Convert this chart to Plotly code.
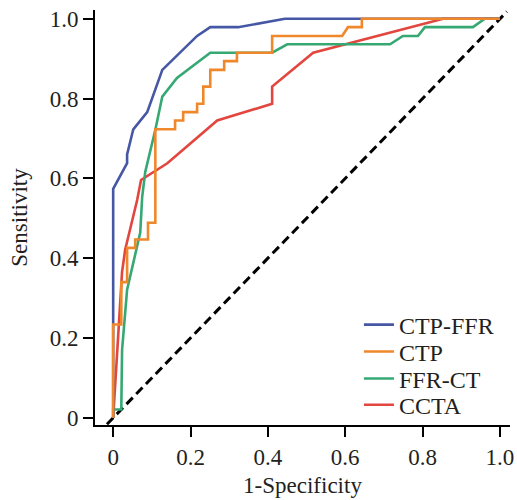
import plotly.graph_objects as go

# ROC curves (1-Specificity, Sensitivity)
ctpffr_x = [0, 0, 0.036, 0.036, 0.052, 0.088, 0.127, 0.217, 0.251, 0.323, 0.444, 1.0]
ctpffr_y = [0, 0.574, 0.638, 0.660, 0.723, 0.766, 0.872, 0.957, 0.979, 0.979, 1.0, 1.0]

ctp_x = [0, 0, 0.021, 0.021, 0.036, 0.036, 0.057, 0.057, 0.090, 0.090, 0.109, 0.109,
         0.160, 0.160, 0.181, 0.181, 0.217, 0.217, 0.233, 0.233, 0.251, 0.251, 0.287,
         0.287, 0.320, 0.320, 0.411, 0.411, 0.592, 0.607, 0.643, 0.643, 1.0]
ctp_y = [0, 0.234, 0.234, 0.340, 0.340, 0.426, 0.426, 0.447, 0.447, 0.489, 0.489, 0.723,
         0.723, 0.745, 0.745, 0.766, 0.766, 0.787, 0.787, 0.830, 0.830, 0.872, 0.872,
         0.894, 0.894, 0.915, 0.915, 0.957, 0.957, 0.979, 0.979, 1.0, 1.0]

ffrct_x = [0, 0, 0.021, 0.023, 0.036, 0.070, 0.075, 0.083, 0.109, 0.127, 0.165, 0.251,
           0.411, 0.450, 0.716, 0.749, 0.788, 0.806, 0.930, 0.961, 1.0]
ffrct_y = [0, 0.021, 0.021, 0.170, 0.321, 0.464, 0.554, 0.617, 0.722, 0.805, 0.852, 0.915,
           0.915, 0.936, 0.936, 0.957, 0.957, 0.979, 0.979, 1.0, 1.0]

ccta_x = [0, 0.023, 0.031, 0.062, 0.072, 0.140, 0.269, 0.411, 0.411, 0.517, 0.853, 1.0]
ccta_y = [0, 0.366, 0.421, 0.546, 0.596, 0.638, 0.745, 0.787, 0.830, 0.915, 1.0, 1.0]

diag_x = [-0.016, 1.018]
diag_y = [-0.016, 1.018]

tick_vals = [0, 0.2, 0.4, 0.6, 0.8, 1.0]
x_tick_text = ["0", "0.2", "0.4", "0.6", "0.8", "1.0"]
y_tick_text = ["0", "0.2", "0.4", "0.6", "0.8", "1.0"]

FONT = "Liberation Serif"
TXT = "#231f20"
W = 2.6

fig = go.Figure()
fig.add_trace(go.Scatter(x=diag_x, y=diag_y, mode="lines", showlegend=False,
                         line=dict(color="black", width=3, dash="9px,5px"), hoverinfo="skip"))
fig.add_trace(go.Scatter(x=ccta_x, y=ccta_y, mode="lines", name="CCTA", legend="legend4",
                         line=dict(color="#e2463f", width=W)))
fig.add_trace(go.Scatter(x=ffrct_x, y=ffrct_y, mode="lines", name="FFR-CT", legend="legend3",
                         line=dict(color="#36a873", width=W)))
fig.add_trace(go.Scatter(x=ctpffr_x, y=ctpffr_y, mode="lines", name="CTP-FFR", legend="legend",
                         line=dict(color="#4557a5", width=W)))
fig.add_trace(go.Scatter(x=ctp_x, y=ctp_y, mode="lines", name="CTP", legend="legend2",
                         line=dict(color="#ef872b", width=W)))

axis_common = dict(showgrid=False, zeroline=False, showline=True, linecolor="black",
                   linewidth=2, ticks="outside", ticklen=10, tickwidth=2, tickcolor="black",
                   automargin=False,
                   tickfont=dict(family=FONT, size=23, color=TXT))

def leg(y):
    return dict(x=0.636, y=y, xanchor="left", yanchor="middle",
                font=dict(family=FONT, size=24, color=TXT), bgcolor="rgba(0,0,0,0)",
                itemwidth=30)

fig.update_layout(
    width=517, height=500,
    margin=dict(l=95, r=7, t=10, b=75),
    plot_bgcolor="white", paper_bgcolor="white",
    font=dict(family=FONT, color=TXT),
    xaxis=dict(range=[-0.047, 1.026], tickvals=tick_vals, ticktext=x_tick_text,
               title=dict(text="1-Specificity", font=dict(family=FONT, size=23), standoff=8),
               **axis_common),
    yaxis=dict(range=[-0.018, 1.022], tickvals=tick_vals, ticktext=y_tick_text,
               title=dict(text="Sensitivity", font=dict(family=FONT, size=23), standoff=16),
               **axis_common),
    legend=leg(0.241),
    legend2=leg(0.176),
    legend3=leg(0.111),
    legend4=leg(0.048),
)

fig.write_html("out.html", config={"displayModeBar": False},
               post_script="document.body.style.margin='0';")
